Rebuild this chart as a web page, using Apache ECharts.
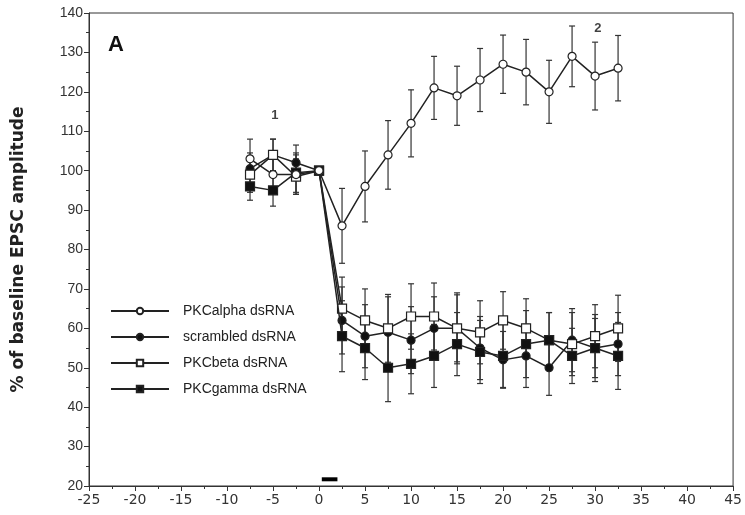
<!DOCTYPE html>
<html>
<head>
<meta charset="utf-8">
<script src="https://cdn.jsdelivr.net/npm/echarts@6/dist/echarts.min.js"></script>
<style>
  html, body { margin: 0; padding: 0; background: #fff; }
  #chart { width: 745px; height: 515px; }
</style>
</head>
<body>
<div id="chart"></div>
<script>
const times = [-7.5, -5, -2.5, 0, 2.5, 5, 7.5, 10, 12.5, 15, 17.5, 20, 22.5, 25, 27.5, 30, 32.5]

const alphaMean = [103, 99, 99, 100, 86, 96, 104, 112, 121, 119, 123, 127, 125, 120, 129, 124, 126]
const alphaErr = [5, 4.5, 5, 0, 9.5, 9, 8.7, 8.5, 8, 7.5, 8, 7.4, 8.3, 8, 7.7, 8.6, 8.3]

const scrambledMean = [100.5, 104, 102, 100, 62, 58, 59, 57, 60, 60, 55, 52, 53, 50, 57, 55, 56]
const scrambledErr = [4, 4, 4.5, 0, 8.5, 8, 9, 8.5, 8, 8.5, 8, 7.2, 8, 7, 8, 8.5, 8]

const betaMean = [99, 104, 98.5, 100, 65, 62, 60, 63, 63, 60, 59, 62, 60, 57, 56, 58, 60]
const betaErr = [4.5, 4, 4.5, 0, 8, 8, 8.6, 8.3, 8.5, 9, 8, 7.3, 7.5, 7, 8, 8, 8.4]

const gammaMean = [96, 95, 99.5, 100, 58, 55, 50, 51, 53, 56, 54, 53, 56, 57, 53, 55, 53]
const gammaErr = [3.5, 4, 5, 0, 9, 8, 8.6, 7.6, 8, 8, 8, 8, 8.5, 7, 7, 7.5, 8.5]

// short black bar marking the treatment period
const stimBar = [[0.3, 21.7], [2, 21.7]]

// "1" and "2" time-point labels
const noteX = [-4.8, 30.3]
const noteY = [114, 136]
const noteText = ['1', '2']

const xTicks = { min: -25, max: 45, interval: 5 }
const yTicks = { min: 20, max: 140, interval: 10 }

const ink = '#222'
const fontFamily = 'Liberation Sans, Arial, sans-serif'

const pairs = (means) => times.map((t, i) => [t, means[i]])
const errRows = (means, errs) => times.map((t, i) => [t, means[i] - errs[i], means[i] + errs[i]])

const errorBars = (name, means, errs) => ({
  name: name + ' err',
  type: 'custom',
  z: 1,
  silent: true,
  data: errRows(means, errs),
  renderItem: function (params, api) {
    const x = api.value(0)
    const lo = api.coord([x, api.value(1)])
    const hi = api.coord([x, api.value(2)])
    const cap = 3
    const style = { stroke: '#333', lineWidth: 1.2 }
    return {
      type: 'group',
      children: [
        { type: 'line', shape: { x1: lo[0], y1: lo[1], x2: hi[0], y2: hi[1] }, style },
        { type: 'line', shape: { x1: lo[0] - cap, y1: lo[1], x2: lo[0] + cap, y2: lo[1] }, style },
        { type: 'line', shape: { x1: hi[0] - cap, y1: hi[1], x2: hi[0] + cap, y2: hi[1] }, style },
      ],
    }
  },
})

const lineSeries = (name, means, symbol, fill, size, z) => ({
  name: name,
  type: 'line',
  z: z,
  data: pairs(means),
  symbol: symbol,
  symbolSize: size,
  showAllSymbol: true,
  lineStyle: { color: ink, width: 1.5 },
  itemStyle: { color: fill, borderColor: ink, borderWidth: 1.2 },
})

const chart = echarts.init(document.getElementById('chart'))

const option = {
  animation: false,
  textStyle: { fontFamily: fontFamily },
  grid: {
    left: 89,
    right: 11,
    top: 13,
    bottom: 29,
    show: true,
    borderColor: '#333',
    borderWidth: 1,
  },
  legend: {
    orient: 'vertical',
    left: 105,
    top: 299,
    itemWidth: 58,
    itemHeight: 8,
    itemGap: 12,
    textStyle: { fontSize: 14, color: ink, fontFamily: fontFamily, padding: [0, 0, 0, 9] },
    data: ['PKCalpha dsRNA', 'scrambled dsRNA', 'PKCbeta dsRNA', 'PKCgamma dsRNA'],
  },
  xAxis: {
    type: 'value',
    min: xTicks.min,
    max: xTicks.max,
    interval: xTicks.interval,
    splitLine: { show: false },
    axisLine: { onZero: false, lineStyle: { color: '#333', width: 1 } },
    axisTick: { inside: false, length: 5, lineStyle: { color: '#333' } },
    minorTick: { show: true, splitNumber: 2, length: 3, lineStyle: { color: '#333' } },
    axisLabel: { fontSize: 14, color: '#333', margin: 7, fontFamily: 'DejaVu Sans, sans-serif' },
  },
  yAxis: {
    type: 'value',
    min: yTicks.min,
    max: yTicks.max,
    interval: yTicks.interval,
    name: '% of baseline EPSC amplitude',
    nameLocation: 'middle',
    nameGap: 62,
    nameTextStyle: { fontSize: 17, fontWeight: 'bold', color: ink, fontFamily: 'DejaVu Sans, sans-serif' },
    splitLine: { show: false },
    axisLine: { onZero: false, lineStyle: { color: '#333', width: 1 } },
    axisTick: { inside: false, length: 5, lineStyle: { color: '#333' } },
    minorTick: { show: true, splitNumber: 2, length: 3, lineStyle: { color: '#333' } },
    axisLabel: { fontSize: 14, color: '#333', margin: 6 },
  },
  graphic: [
    {
      type: 'text',
      left: 108,
      top: 34,
      style: { text: 'A', font: 'bold 22px ' + fontFamily, fill: '#111' },
    },
  ],
  series: [
    errorBars('PKCgamma dsRNA', gammaMean, gammaErr),
    errorBars('PKCbeta dsRNA', betaMean, betaErr),
    errorBars('scrambled dsRNA', scrambledMean, scrambledErr),
    errorBars('PKCalpha dsRNA', alphaMean, alphaErr),
    lineSeries('scrambled dsRNA', scrambledMean, 'circle', '#111', 8, 3),
    lineSeries('PKCbeta dsRNA', betaMean, 'rect', '#fff', 9, 4),
    lineSeries('PKCgamma dsRNA', gammaMean, 'rect', '#111', 9, 5),
    lineSeries('PKCalpha dsRNA', alphaMean, 'circle', '#fff', 8, 6),
    {
      name: 'bar',
      type: 'line',
      data: stimBar,
      symbol: 'none',
      lineStyle: { color: '#000', width: 4 },
      z: 6,
    },
    {
      name: 'notes',
      type: 'scatter',
      symbol: 'circle',
      symbolSize: 2,
      itemStyle: { color: 'rgba(0,0,0,0)' },
      data: noteX.map((x, i) => ({ value: [x, noteY[i]], name: noteText[i] })),
      label: {
        show: true,
        position: 'inside',
        formatter: (p) => p.name,
        fontSize: 13,
        fontWeight: 'bold',
        color: '#111',
      },
      z: 7,
    },
  ],
}

option && chart.setOption(option)
</script>
</body>
</html>
